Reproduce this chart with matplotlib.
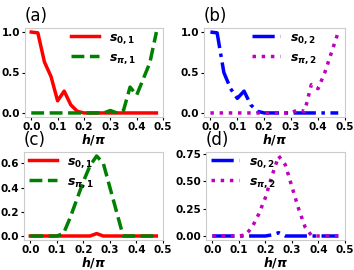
import matplotlib
matplotlib.use('Agg')
import matplotlib.pyplot as plt

plt.rcParams['mathtext.fontset'] = 'custom'
plt.rcParams['mathtext.it'] = 'DejaVu Sans:italic:bold'
plt.rcParams['mathtext.rm'] = 'DejaVu Sans:bold'
plt.rcParams['mathtext.bf'] = 'DejaVu Sans:bold'

h = [0.0, 0.025, 0.05, 0.075, 0.1, 0.125, 0.15, 0.175, 0.2, 0.225,
     0.25, 0.275, 0.3, 0.325, 0.35, 0.375, 0.4, 0.425, 0.45, 0.475]

# (a) and (b)
s0_1a = [1.0, 0.99, 0.63, 0.45, 0.15, 0.27, 0.10, 0.02, 0.0, 0.0,
         0.0, 0.0, 0.0, 0.0, 0.0, 0.0, 0.0, 0.0, 0.0, 0.0]
spi_1a = [0.0, 0.0, 0.0, 0.0, 0.0, 0.0, 0.0, 0.0, 0.0, 0.0,
          0.0, 0.0, 0.03, 0.0, 0.03, 0.32, 0.22, 0.42, 0.62, 1.0]
s0_2b = [1.0, 0.99, 0.50, 0.30, 0.18, 0.27, 0.10, 0.02, 0.0, 0.0,
         0.0, 0.0, 0.0, 0.0, 0.0, 0.0, 0.0, 0.0, 0.0, 0.0]
spi_2b = [0.0, 0.0, 0.0, 0.0, 0.0, 0.0, 0.0, 0.0, 0.0, 0.0,
          0.0, 0.0, 0.0, 0.04, 0.02, 0.35, 0.30, 0.50, 0.75, 1.0]

# (c) and (d)
s0_1c = [0.0, 0.0, 0.0, 0.0, 0.0, 0.0, 0.0, 0.0, 0.0, 0.0,
         0.02, 0.0, 0.0, 0.0, 0.0, 0.0, 0.0, 0.0, 0.0, 0.0]
spi_1c = [0.0, 0.0, 0.0, 0.0, 0.0, 0.02, 0.15, 0.30, 0.45, 0.58,
          0.66, 0.60, 0.40, 0.20, 0.0, 0.0, 0.0, 0.0, 0.0, 0.0]
s0_2d = [0.0, 0.0, 0.0, 0.0, 0.0, 0.0, 0.0, 0.0, 0.0, 0.01,
         0.03, 0.0, 0.0, 0.0, 0.0, 0.0, 0.0, 0.0, 0.0, 0.0]
spi_2d = [0.0, 0.0, 0.0, 0.0, 0.0, 0.01, 0.08, 0.20, 0.35, 0.55,
          0.73, 0.65, 0.45, 0.25, 0.08, 0.0, 0.0, 0.0, 0.0, 0.0]

fig = plt.figure(figsize=(3.54, 2.70), dpi=100)
W, H = 354.0, 270.0
boxes = [(25, 28, 163, 117), (204, 28, 345, 117),
         (24, 152, 163, 240), (206, 152, 345, 240)]
axs = [fig.add_axes([l / W, 1 - b / H, (r - l) / W, (b - t) / H]) for l, t, r, b in boxes]

panels = [
    ('(a)', s0_1a, spi_1a, 'red', '-', 'green', '--', '1', 'upper center', (0.57, 1.0)),
    ('(b)', s0_2b, spi_2b, 'blue', '-.', 'm', ':', '2', 'upper center', (0.57, 1.0)),
    ('(c)', s0_1c, spi_1c, 'red', '-', 'green', '--', '1', 'upper left', (0.02, 1.0)),
    ('(d)', s0_2d, spi_2d, 'blue', '-.', 'm', ':', '2', 'upper left', (0.02, 1.0)),
]
yticks = [[0.0, 0.5, 1.0], [0.0, 0.5, 1.0], [0.0, 0.2, 0.4, 0.6], [0.0, 0.25, 0.5, 0.75]]

for ax, (lab, y0, ypi, c0, ls0, cpi, lspi, k, loc, anchor), yt in zip(axs, panels, yticks):
    ax.plot(h, y0, color=c0, ls=ls0, lw=2.5, label=r'$s_{0,%s}$' % k)
    ax.plot(h, ypi, color=cpi, ls=lspi, lw=2.5, label=r'$s_{\pi,%s}$' % k)
    ax.set_title(lab, loc='left', fontsize=12, pad=5)
    ax.set_xlabel(r'$h/\pi$', fontsize=9, labelpad=0)
    ax.set_xticks([0.0, 0.1, 0.2, 0.3, 0.4, 0.5])
    ax.set_yticks(yt)
    for t in ax.get_xticklabels() + ax.get_yticklabels():
        t.set_fontweight('bold')
        t.set_fontsize(7.5)
    ax.tick_params(length=2, pad=1.5)
    for sp in ax.spines.values():
        sp.set_color('#cccccc')
    ax.legend(loc=loc, bbox_to_anchor=anchor, frameon=False, fontsize=9,
              handlelength=2.2, borderaxespad=0.0, borderpad=0.2, labelspacing=0.4)

fig.savefig('out.png', dpi=100)
